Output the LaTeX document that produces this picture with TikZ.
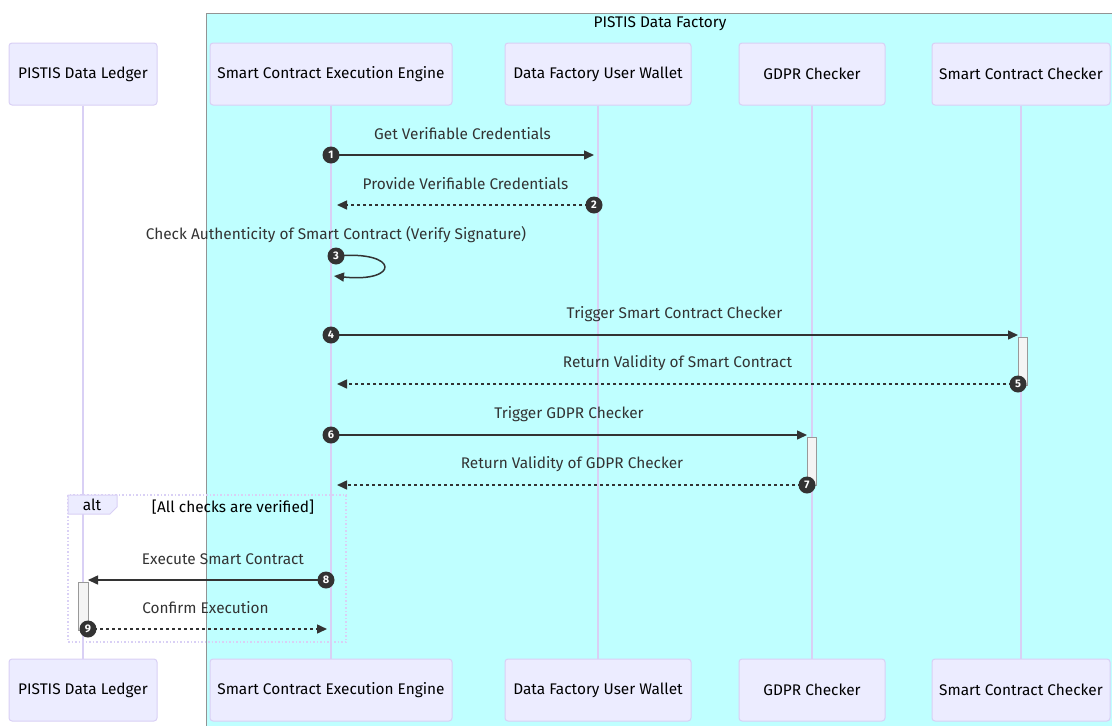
\documentclass[tikz,border=0pt]{standalone}
\usepackage{fontspec}
\setmainfont{Fira Sans}
\usetikzlibrary{arrows.meta}

\definecolor{actorfill}{HTML}{ECECFF}
\definecolor{actorline}{HTML}{D9D0F5}
\definecolor{boxcyan}{HTML}{BFFFFF}
\definecolor{signal}{HTML}{333333}
\definecolor{actfill}{HTML}{F4F4F4}

\begin{document}
\begin{tikzpicture}[
	x=1pt, y=-1pt,
	font=\fontsize{15.4}{18}\selectfont,
	actor/.style={ draw=actorline, fill=actorfill, line width=1pt, rounded corners=3pt, minimum height=62pt, inner sep=0pt },
	lifeline/.style={ draw=actorline, line width=1.5pt },
	msg/.style={ draw=signal, line width=1.5pt, -{Triangle[length=10pt,width=9pt]} },
	reply/.style={ msg, dash pattern=on 3pt off 3pt },
	msgtext/.style={ text=signal, inner sep=0pt },
	activation/.style={ draw=gray!80, fill=actfill, line width=1pt },
	seq/.style={ circle, fill=signal, text=white, inner sep=0pt, minimum size=17pt, font=\fontsize{11}{11}\selectfont\bfseries },
]

\useasboundingbox (0,0) rectangle (1112,726);

% the data factory box
\draw[draw=gray!85, fill=boxcyan, line width=1pt] (206,13) rectangle (1114,728);
\node at (660,24) (factory) {PISTIS Data Factory};

% participants, top and bottom
\foreach \a/\x/\w/\txt in {
	ledger/83/148/{PISTIS Data Ledger},
	engine/331/242/{Smart Contract Execution Engine},
	wallet/598/186/{Data Factory User Wallet},
	gdpr/812/146/{GDPR Checker},
	checker/1021/178/{Smart Contract Checker}} {
	\node at (\x,74) (\a) [actor, minimum width=\w pt] {\txt};
	\node at (\x,690) (\a b) [actor, minimum width=\w pt] {\txt};
	\draw[lifeline] (\a.south) to (\a b.north);
}

% activations
\draw[activation] (1018,337) rectangle (1027,385);
\draw[activation] (807,437) rectangle (816,485);
\draw[activation] (78,582) rectangle (88,630);

% alt frame
\draw[draw=actorline, line width=1.5pt, dotted] (68,495) rectangle (346,642);
\draw[draw=actorline, fill=actorfill, line width=1pt] (68,495) -- (117,495) -- (117,507) -- (110,514) -- (68,514) -- cycle;
\node at (92,505) (alt) {alt};
\node at (233,507) (guard) {[All checks are verified]};

% messages
\foreach \n/\xa/\xb/\y/\kind/\dx/\txt in {
	1/331/594/155/msg/0/{Get Verifiable Credentials},
	2/594/337/205/reply/0/{Provide Verifiable Credentials},
	4/331/1018/335/msg/0/{Trigger Smart Contract Checker},
	5/1018/337/384/reply/0/{Return Validity of Smart Contract},
	6/331/807/435/msg/0/{Trigger GDPR Checker},
	7/807/337/485/reply/0/{Return Validity of GDPR Checker},
	8/326/88/580/msg/16/{Execute Smart Contract},
	9/88/327/629/reply/-2/{Confirm Execution}} {
	\coordinate (s\n) at (\xa,\y);
	\coordinate (e\n) at (\xb,\y);
	\draw[\kind] (s\n) to node[msgtext, xshift=\dx pt, yshift=21pt] {\txt} (e\n);
}

% self call
\coordinate (s3) at (336,256);
\coordinate (e3) at (334,276);
\draw[msg] (s3) .. controls (400,250) and (400,283) .. (e3);
\node at (336,235) (selftext) [msgtext] {Check Authenticity of Smart Contract (Verify Signature)};

% sequence numbers
\foreach \n in {1,...,9} {
	\node at (s\n) [seq] {\n};
}

\end{tikzpicture}
\end{document}
